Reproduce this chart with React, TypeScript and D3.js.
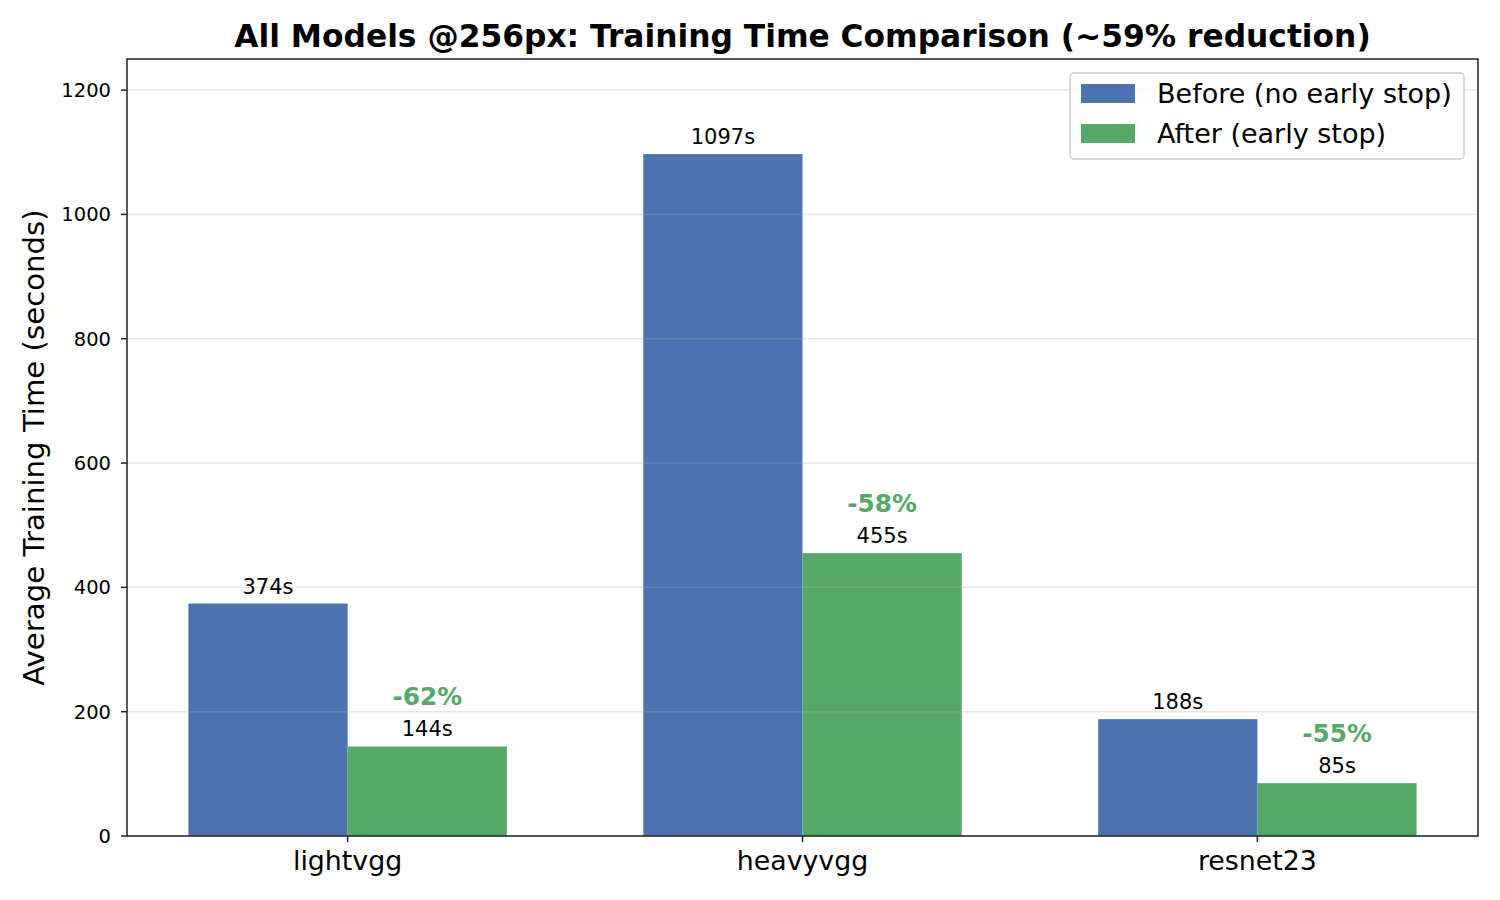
import * as d3 from 'd3';

const models = ['lightvgg', 'heavyvgg', 'resnet23'];
const beforeTimes = [374, 1097, 188];
const afterTimes = [144, 455, 85];
const reductions = ['-62%', '-58%', '-55%'];
const yTicks = [0, 200, 400, 600, 800, 1000, 1200];

const BLUE = '#4C72B0';
const GREEN = '#55A868';
const FONT = '"DejaVu Sans", sans-serif';

export default function App() {
  const width = 1500;
  const height = 900;
  const left = 127;
  const right = 1478;
  const top = 59;
  const bottom = 836;
  const barW = 0.35;

  const x = d3.scaleLinear().domain([-0.485, 2.485]).range([left, right]);
  const y = d3.scaleLinear().domain([0, 1250]).range([bottom, top]);
  const bw = x(barW) - x(0);

  return (
    <svg width={width} height={height} style={{ position: 'absolute', left: 0, top: 0 }} fontFamily={FONT}>
      <rect width={width} height={height} fill="#fff" />

      {/* bars */}
      {models.map((m, i) => (
        <g key={m}>
          <rect x={x(i - barW)} y={y(beforeTimes[i])} width={bw} height={y(0) - y(beforeTimes[i])} fill={BLUE} />
          <rect x={x(i)} y={y(afterTimes[i])} width={bw} height={y(0) - y(afterTimes[i])} fill={GREEN} />
        </g>
      ))}

      {/* grid on top of bars */}
      {yTicks.map((t) => (
        <line key={t} x1={left} x2={right} y1={y(t)} y2={y(t)} stroke="#b0b0b0" strokeOpacity={0.3} strokeWidth={1.5} />
      ))}

      {/* value labels */}
      {models.map((m, i) => (
        <g key={m + '-lab'} fontSize={21} fill="#000" textAnchor="middle">
          <text x={x(i - barW / 2)} y={y(beforeTimes[i]) - 10}>{beforeTimes[i]}s</text>
          <text x={x(i + barW / 2)} y={y(afterTimes[i]) - 10}>{afterTimes[i]}s</text>
          <text x={x(i + barW / 2)} y={y(afterTimes[i] + 80)} dy="0.35em" fontSize={24.8} fontWeight="bold" fill={GREEN}>
            {reductions[i]}
          </text>
        </g>
      ))}

      {/* frame */}
      <rect x={left} y={top} width={right - left} height={bottom - top} fill="none" stroke="#222" strokeWidth={1.5} />

      {/* y axis */}
      {yTicks.map((t) => (
        <g key={'yt' + t}>
          <line x1={left - 6} x2={left} y1={y(t)} y2={y(t)} stroke="#222" strokeWidth={1.5} />
          <text x={left - 16} y={y(t)} dy="0.36em" textAnchor="end" fontSize={19.5}>{t}</text>
        </g>
      ))}

      {/* x axis */}
      {models.map((m, i) => (
        <g key={'xt' + m}>
          <line x1={x(i)} x2={x(i)} y1={bottom} y2={bottom + 6} stroke="#222" strokeWidth={1.5} />
          <text x={x(i)} y={bottom + 34} textAnchor="middle" fontSize={26.8}>{m}</text>
        </g>
      ))}

      <text transform={`translate(44, ${(top + bottom) / 2}) rotate(-90)`} textAnchor="middle" fontSize={29.2}>
        Average Training Time (seconds)
      </text>

      <text x={(left + right) / 2} y={47} textAnchor="middle" fontSize={31.3} fontWeight="bold">
        All Models @256px: Training Time Comparison (~59% reduction)
      </text>

      {/* legend */}
      <g>
        <rect x={1070} y={73} width={394} height={86} rx={4} fill="#fff" fillOpacity={0.8} stroke="#ccc" strokeWidth={1.5} />
        <rect x={1081} y={84} width={54} height={19} fill={BLUE} />
        <rect x={1081} y={124} width={54} height={19} fill={GREEN} />
        <text x={1157} y={103} fontSize={27}>Before (no early stop)</text>
        <text x={1157} y={143} fontSize={27}>After (early stop)</text>
      </g>
    </svg>
  );
}
